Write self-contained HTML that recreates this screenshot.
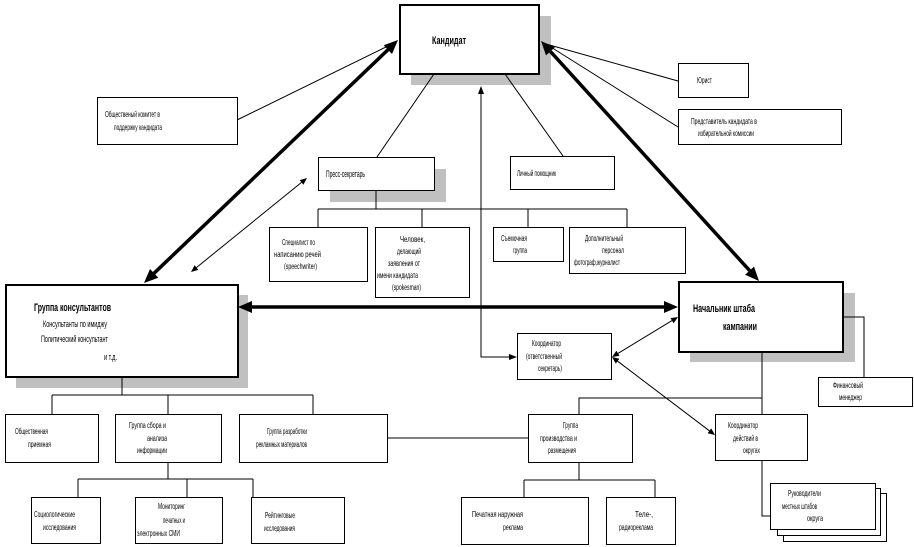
<!DOCTYPE html>
<html><head><meta charset="utf-8"><style>
html,body{margin:0;padding:0;background:#fff;}
svg{display:block;}
text{font-family:"Liberation Sans","Noto Sans CJK SC",sans-serif;fill:#000;}
.s{font-size:8.5px;}
.m{font-size:9.5px;}
.b{font-size:11px;font-weight:bold;}
</style></head><body>
<svg width="914" height="547" viewBox="0 0 914 547" xmlns="http://www.w3.org/2000/svg">
<rect x="0" y="0" width="914" height="547" fill="#fff"/>
<!-- shadows -->
<g fill="#c0c0c0">
<rect x="411" y="16" width="140" height="69"/>
<rect x="330" y="169" width="116" height="33"/>
<rect x="16" y="295" width="232" height="93"/>
<rect x="690" y="293" width="165" height="69"/>
</g>
<!-- connector lines thin -->
<g stroke="#000" stroke-width="1" fill="none">
<line x1="237" y1="120" x2="392" y2="44"/>
<line x1="546" y1="44" x2="678" y2="81"/>
<line x1="546" y1="44" x2="678" y2="127"/>
<line x1="434" y1="74" x2="377" y2="157"/>
<line x1="505" y1="74" x2="563" y2="156"/>
<line x1="301.5" y1="182.4" x2="196.4" y2="267.6"/>
<polyline points="481,92 481,357 511,357"/>
<line x1="618" y1="353.4" x2="672" y2="320.6"/>
<line x1="617.6" y1="361.2" x2="709.4" y2="430.8"/>
<polyline points="843,317 864,317 864,377"/>
<line x1="762" y1="352" x2="762" y2="414"/>
<polyline points="762,398 579,398 579,414"/>
<line x1="387" y1="438" x2="528" y2="438"/>
<!-- consultants tree -->
<line x1="122" y1="377" x2="122" y2="395"/>
<line x1="52" y1="395" x2="313" y2="395"/>
<line x1="52" y1="395" x2="52" y2="414"/>
<line x1="168" y1="395" x2="168" y2="414"/>
<line x1="313" y1="395" x2="313" y2="414"/>
<!-- sbora tree -->
<line x1="168" y1="462" x2="168" y2="479"/>
<line x1="78" y1="479" x2="253" y2="479"/>
<line x1="78" y1="479" x2="78" y2="497"/>
<line x1="187" y1="479" x2="187" y2="497"/>
<line x1="253" y1="479" x2="253" y2="497"/>
<!-- press tree -->
<line x1="376" y1="190" x2="376" y2="209"/>
<line x1="318" y1="209" x2="627" y2="209"/>
<line x1="318" y1="209" x2="318" y2="227"/>
<line x1="422" y1="209" x2="422" y2="227"/>
<line x1="528" y1="209" x2="528" y2="227"/>
<line x1="627" y1="209" x2="627" y2="227"/>
<!-- production tree -->
<line x1="579" y1="462" x2="579" y2="480"/>
<line x1="524" y1="480" x2="655" y2="480"/>
<line x1="524" y1="480" x2="524" y2="497"/>
<line x1="655" y1="480" x2="655" y2="497"/>
<!-- coordinator actions -->
<polyline points="762,460 762,516 770,516"/>
</g>
<!-- thick lines -->
<g stroke="#000" stroke-width="3.5" fill="none">
<line x1="154" y1="273.3" x2="388" y2="49.7"/>
<line x1="550.4" y1="51.4" x2="749.6" y2="270.6"/>
<line x1="251" y1="307" x2="665" y2="307"/>
</g>
<!-- arrowheads -->
<g fill="#000" stroke="none">
<polygon points="398,40 392,54 383.7,45.3"/>
<polygon points="144,283 158.3,277.7 150,269"/>
<polygon points="759,281 745.1,274.7 754,266.6"/>
<polygon points="541,41 546,55.4 554.9,47.3"/>
<polygon points="238,307 252,301 252,313"/>
<polygon points="678,307 664,301 664,313"/>
<polygon points="191,272 198.3,269.9 194.6,265.3"/>
<polygon points="307,178 303.4,184.7 299.7,180.1"/>
<polygon points="678,317 673.6,323.2 670.5,318.1"/>
<polygon points="612,357 619.5,355.9 616.4,350.8"/>
<polygon points="715,435 707.6,433.2 711.2,428.4"/>
<polygon points="612,357 615.8,363.6 619.4,358.8"/>
<polygon points="481,86 478,94 484,94"/>
<polygon points="517,357 509,354 509,360"/>
</g>
<!-- main boxes -->
<g fill="#fff" stroke="#000" stroke-width="2">
<rect x="400" y="5" width="139" height="69"/>
<rect x="6" y="285" width="232" height="92"/>
<rect x="679" y="282" width="164" height="70"/>
</g>
<!-- small boxes -->
<g fill="#fff" stroke="#000" stroke-width="1">
<rect x="97.5" y="97.5" width="140" height="47"/>
<rect x="318.5" y="157.5" width="116" height="33"/>
<rect x="269.5" y="227.5" width="98" height="54"/>
<rect x="375.5" y="227.5" width="94" height="70"/>
<rect x="510.5" y="156.5" width="104" height="33"/>
<rect x="493.5" y="227.5" width="70" height="34"/>
<rect x="569.5" y="227.5" width="116" height="46"/>
<rect x="678.5" y="63.5" width="70" height="34"/>
<rect x="678.5" y="109.5" width="163" height="35"/>
<rect x="5.5" y="414.5" width="93" height="48"/>
<rect x="115.5" y="414.5" width="106" height="48"/>
<rect x="239.5" y="414.5" width="148" height="48"/>
<rect x="517.5" y="333.5" width="94" height="46"/>
<rect x="818.5" y="377.5" width="94" height="29"/>
<rect x="528.5" y="414.5" width="104" height="48"/>
<rect x="715.5" y="414.5" width="92" height="46"/>
<rect x="31.5" y="497.5" width="69" height="46"/>
<rect x="135.5" y="497.5" width="87" height="46"/>
<rect x="251.5" y="497.5" width="93" height="46"/>
<rect x="461.5" y="497.5" width="127" height="47"/>
<rect x="606.5" y="497.5" width="69" height="47"/>
<rect x="783.5" y="493.5" width="103" height="48"/>
<rect x="777.5" y="488.5" width="103" height="47"/>
<rect x="770.5" y="483.5" width="105" height="46"/>
</g>
<!-- texts -->
<text class="b" x="432" y="44" textLength="34" lengthAdjust="spacingAndGlyphs">Кандидат</text>
<text class="s" x="105" y="117" textLength="55" lengthAdjust="spacingAndGlyphs">Общественый комитет в</text>
<text class="s" x="114" y="130" textLength="48" lengthAdjust="spacingAndGlyphs">поддержку кандидата</text>
<text class="m" x="326" y="177" textLength="39" lengthAdjust="spacingAndGlyphs">Пресс-секретарь</text>
<text class="s" x="282" y="245" textLength="33" lengthAdjust="spacingAndGlyphs">Специалист по</text>
<text class="s" x="274" y="257" textLength="47" lengthAdjust="spacingAndGlyphs">написанию речей</text>
<text class="s" x="284" y="269" textLength="33" lengthAdjust="spacingAndGlyphs">(speechwriter)</text>
<text class="s" x="400" y="242" textLength="25" lengthAdjust="spacingAndGlyphs">Человек,</text>
<text class="s" x="397" y="254" textLength="24" lengthAdjust="spacingAndGlyphs">делающий</text>
<text class="s" x="388" y="266" textLength="32" lengthAdjust="spacingAndGlyphs">заявления от</text>
<text class="s" x="377" y="278" textLength="41" lengthAdjust="spacingAndGlyphs">имени кандидата</text>
<text class="s" x="392" y="290" textLength="29" lengthAdjust="spacingAndGlyphs">(spokesman)</text>
<text class="s" x="517" y="176" textLength="39" lengthAdjust="spacingAndGlyphs">Личный помощник</text>
<text class="s" x="501" y="241" textLength="26" lengthAdjust="spacingAndGlyphs">Съемочная</text>
<text class="s" x="513" y="253" textLength="14" lengthAdjust="spacingAndGlyphs">группа</text>
<text class="s" x="585" y="241" textLength="38" lengthAdjust="spacingAndGlyphs">Дополнительный</text>
<text class="s" x="602" y="253" textLength="22" lengthAdjust="spacingAndGlyphs">персонал</text>
<text class="s" x="574" y="265" textLength="46" lengthAdjust="spacingAndGlyphs">фотограф,журналист</text>
<text class="s" x="697" y="83" textLength="15" lengthAdjust="spacingAndGlyphs">Юрист</text>
<text class="s" x="691" y="124" textLength="66" lengthAdjust="spacingAndGlyphs">Представитель кандидата в</text>
<text class="s" x="698" y="136" textLength="56" lengthAdjust="spacingAndGlyphs">избирательной комиссии</text>
<text class="b" x="34" y="311" textLength="77" lengthAdjust="spacingAndGlyphs">Группа консультантов</text>
<text class="m" x="43" y="327" textLength="64" lengthAdjust="spacingAndGlyphs">Консультанты по имиджу</text>
<text class="m" x="41" y="342" textLength="67" lengthAdjust="spacingAndGlyphs">Политический консультант</text>
<text class="m" x="104" y="360" textLength="13" lengthAdjust="spacingAndGlyphs">и т.д.</text>
<text class="b" x="693" y="312" textLength="62" lengthAdjust="spacingAndGlyphs">Начальник штаба</text>
<text class="b" x="723" y="330" textLength="34" lengthAdjust="spacingAndGlyphs">кампании</text>
<text class="s" x="532" y="346" textLength="29" lengthAdjust="spacingAndGlyphs">Координатор</text>
<text class="s" x="526" y="359" textLength="36" lengthAdjust="spacingAndGlyphs">(ответственный</text>
<text class="s" x="538" y="371" textLength="24" lengthAdjust="spacingAndGlyphs">секретарь)</text>
<text class="s" x="833" y="388" textLength="30" lengthAdjust="spacingAndGlyphs">Финансовый</text>
<text class="s" x="839" y="400" textLength="23" lengthAdjust="spacingAndGlyphs">менеджер</text>
<text class="s" x="15" y="434" textLength="33" lengthAdjust="spacingAndGlyphs">Общественная</text>
<text class="s" x="28" y="447" textLength="23" lengthAdjust="spacingAndGlyphs">приемная</text>
<text class="s" x="129" y="428" textLength="37" lengthAdjust="spacingAndGlyphs">Группа сбора и</text>
<text class="s" x="147" y="441" textLength="20" lengthAdjust="spacingAndGlyphs">анализа</text>
<text class="s" x="137" y="453" textLength="30" lengthAdjust="spacingAndGlyphs">информации</text>
<text class="s" x="267" y="434" textLength="40" lengthAdjust="spacingAndGlyphs">Группа разработки</text>
<text class="s" x="256" y="447" textLength="51" lengthAdjust="spacingAndGlyphs">рекламных материалов</text>
<text class="s" x="563" y="428" textLength="15" lengthAdjust="spacingAndGlyphs">Группа</text>
<text class="s" x="540" y="441" textLength="37" lengthAdjust="spacingAndGlyphs">производства и</text>
<text class="s" x="548" y="453" textLength="28" lengthAdjust="spacingAndGlyphs">размещения</text>
<text class="s" x="728" y="428" textLength="30" lengthAdjust="spacingAndGlyphs">Координатор</text>
<text class="s" x="733" y="441" textLength="25" lengthAdjust="spacingAndGlyphs">действий в</text>
<text class="s" x="743" y="453" textLength="17" lengthAdjust="spacingAndGlyphs">округах</text>
<text class="s" x="34" y="517" textLength="41" lengthAdjust="spacingAndGlyphs">Социологические</text>
<text class="s" x="43" y="530" textLength="33" lengthAdjust="spacingAndGlyphs">исследования</text>
<text class="s" x="158" y="509" textLength="27" lengthAdjust="spacingAndGlyphs">Мониторинг</text>
<text class="s" x="163" y="523" textLength="22" lengthAdjust="spacingAndGlyphs">печатных и</text>
<text class="s" x="137" y="536" textLength="43" lengthAdjust="spacingAndGlyphs">электронных СМИ</text>
<text class="s" x="265" y="518" textLength="30" lengthAdjust="spacingAndGlyphs">Рейтинговые</text>
<text class="s" x="264" y="531" textLength="31" lengthAdjust="spacingAndGlyphs">исследования</text>
<text class="s" x="472" y="517" textLength="51" lengthAdjust="spacingAndGlyphs">Печатная наружная</text>
<text class="s" x="503" y="530" textLength="20" lengthAdjust="spacingAndGlyphs">реклама</text>
<text class="s" x="635" y="517" textLength="18" lengthAdjust="spacingAndGlyphs">Теле-,</text>
<text class="s" x="619" y="530" textLength="34" lengthAdjust="spacingAndGlyphs">радиореклама</text>
<text class="s" x="788" y="496" textLength="33" lengthAdjust="spacingAndGlyphs">Руководители</text>
<text class="s" x="782" y="509" textLength="35" lengthAdjust="spacingAndGlyphs">местных штабов</text>
<text class="s" x="807" y="521" textLength="16" lengthAdjust="spacingAndGlyphs">округа</text>
</svg>
</body></html>
